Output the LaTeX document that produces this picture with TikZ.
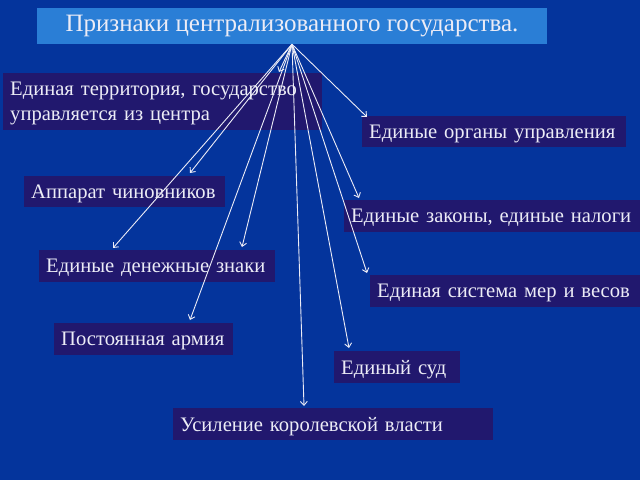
\documentclass[tikz,border=0pt]{standalone}
\usepackage{fontspec}
\setmainfont{Liberation Serif}
\usepackage{tikz}
\usetikzlibrary{arrows.meta}

\definecolor{bgblue}{RGB}{4,52,156}
\definecolor{titleblue}{RGB}{42,126,214}
\definecolor{boxnavy}{RGB}{33,24,110}
\definecolor{txtlight}{RGB}{236,236,246}

\tikzset{
	sign/.style={fill=boxnavy, text=txtlight, anchor=north west, align=left,
		inner xsep=7pt, inner ysep=0pt, text depth=0pt, font=\fontsize{20.6}{25}\selectfont},
	arr/.style={draw=txtlight, line width=0.9pt, -{Straight Barb[length=4pt,width=7pt]}}
}

\begin{document}
\begin{tikzpicture}[x=1pt,y=-1pt]
	%background
	\fill[bgblue] (0,0) rectangle (640,480);
	\useasboundingbox (0,0) rectangle (640,480);
	
	%title
	\node[fill=titleblue, text=txtlight, minimum width=510pt, minimum height=36pt,
		inner sep=0pt, font=\fontsize{25}{28}\selectfont] (title) at (292,26)
		{Признаки централизованного государства.};
	
	%signs
	\node[sign, text width=305pt, minimum height=57pt, text depth=26pt] (terr) at (3,73)
		{Единая территория, государство\\управляется из центра};
	\node[sign, text width=250pt, minimum height=31pt] (organy) at (362,116) {Единые органы управления};
	\node[sign, text width=187pt, minimum height=31pt] (appar)  at (24,176)  {Аппарат чиновников};
	\node[sign, text width=290pt, minimum height=32pt] (zakony) at (344,200) {Единые законы, единые налоги};
	\node[sign, text width=222pt, minimum height=32pt] (dengi)  at (39,250)  {Единые денежные знаки};
	\node[sign, text width=256pt, minimum height=32pt] (mery)   at (370,275) {Единая система мер и весов};
	\node[sign, text width=165pt, minimum height=32pt] (armia)  at (54,323)  {Постоянная армия};
	\node[sign, text width=112pt, minimum height=32pt] (sud)    at (334,351) {Единый суд};
	\node[sign, text width=306pt, minimum height=32pt] (korol)  at (173,408) {Усиление королевской власти};
	
	%arrow tips
	\coordinate (tTerr)   at (279,72);
	\coordinate (tOrgany) at (367,117);
	\coordinate (tAppar)  at (190,173);
	\coordinate (tZakony) at (359,198);
	\coordinate (tDengiA) at (113,248);
	\coordinate (tDengiB) at (242,247);
	\coordinate (tMery)   at (367,273);
	\coordinate (tArmia)  at (190,320);
	\coordinate (tSud)    at (349,348);
	\coordinate (tKorol)  at (304,406);
	
	%arrows
	\draw[arr] (title.south) -- (tTerr);
	\draw[arr] (title.south) -- (tOrgany);
	\draw[arr] (title.south) -- (tAppar);
	\draw[arr] (title.south) -- (tZakony);
	\draw[arr] (title.south) -- (tDengiA);
	\draw[arr] (title.south) -- (tDengiB);
	\draw[arr] (title.south) -- (tMery);
	\draw[arr] (title.south) -- (tArmia);
	\draw[arr] (title.south) -- (tSud);
	\draw[arr] (title.south) -- (tKorol);
\end{tikzpicture}
\end{document}
